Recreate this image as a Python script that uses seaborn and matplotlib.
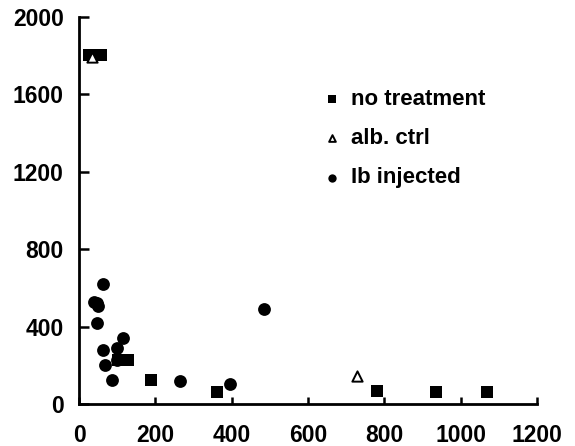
import matplotlib
matplotlib.use("Agg")
import matplotlib.pyplot as plt
import seaborn as sns
import pandas as pd

# data
no_treatment_x = [25, 58, 103, 128, 188, 361, 780, 934, 1070]
no_treatment_y = [1800, 1800, 227, 227, 124, 64, 67, 60, 60]

alb_ctrl_x = [34, 727]
alb_ctrl_y = [1790, 145]

ib_injected_x = [38, 46, 49, 62, 46, 64, 68, 86, 100, 114, 100, 265, 396, 485]
ib_injected_y = [529, 520, 506, 618, 417, 279, 201, 124, 288, 339, 230, 119, 103, 491]

x_ticks = [0, 200, 400, 600, 800, 1000, 1200]
y_ticks = [0, 400, 800, 1200, 1600, 2000]

sns.set_style("ticks", {"axes.edgecolor": "black", "xtick.color": "black",
                        "ytick.color": "black", "text.color": "black"})
plt.rcParams['font.family'] = ['Liberation Sans', 'DejaVu Sans']

fig = plt.figure(figsize=(5.75, 4.46), dpi=100)
ax = fig.add_axes([0.1374, 0.094, 0.934 - 0.1374, 0.9626 - 0.094])

df_nt = pd.DataFrame({"x": no_treatment_x, "y": no_treatment_y})
df_ac = pd.DataFrame({"x": alb_ctrl_x, "y": alb_ctrl_y})
df_ib = pd.DataFrame({"x": ib_injected_x, "y": ib_injected_y})

sns.scatterplot(data=df_ib, x="x", y="y", ax=ax, marker="o", s=85,
                color="black", edgecolor="black", linewidth=0, label="Ib injected", zorder=3)
sns.scatterplot(data=df_nt, x="x", y="y", ax=ax, marker="s", s=70,
                color="black", edgecolor="black", linewidth=0, label="no treatment", zorder=3)
sns.scatterplot(data=df_ac, x="x", y="y", ax=ax, marker="^", s=55,
                facecolor="white", edgecolor="black", linewidth=1.4, label="alb. ctrl", zorder=4)

ax.set_xlim(0, 1200)
ax.set_ylim(0, 2000)
ax.set_xticks(x_ticks)
ax.set_yticks(y_ticks)
ax.set_xlabel("")
ax.set_ylabel("")
ax.margins(0)

for s in ["top", "right"]:
    ax.spines[s].set_visible(False)
for s in ["left", "bottom"]:
    ax.spines[s].set_linewidth(2)
    ax.spines[s].set_color("black")
ax.tick_params(direction="in", width=1.8, labelsize=16.5, colors="black")
ax.tick_params(axis="y", length=7, pad=11)
ax.tick_params(axis="x", length=5, pad=14)
for lab in ax.get_xticklabels() + ax.get_yticklabels():
    lab.set_fontweight("bold")

handles, labels = ax.get_legend_handles_labels()
order = [labels.index("no treatment"), labels.index("alb. ctrl"), labels.index("Ib injected")]
leg = ax.legend([handles[i] for i in order], [labels[i] for i in order],
                loc="upper left", bbox_to_anchor=(0.49, 0.865), frameon=False,
                prop={"weight": "bold", "size": 16}, markerscale=0.65,
                handlelength=0.8, handletextpad=0.45, labelspacing=0.82)
for t in leg.get_texts():
    t.set_color("black")

fig.savefig("out.png", dpi=100)
